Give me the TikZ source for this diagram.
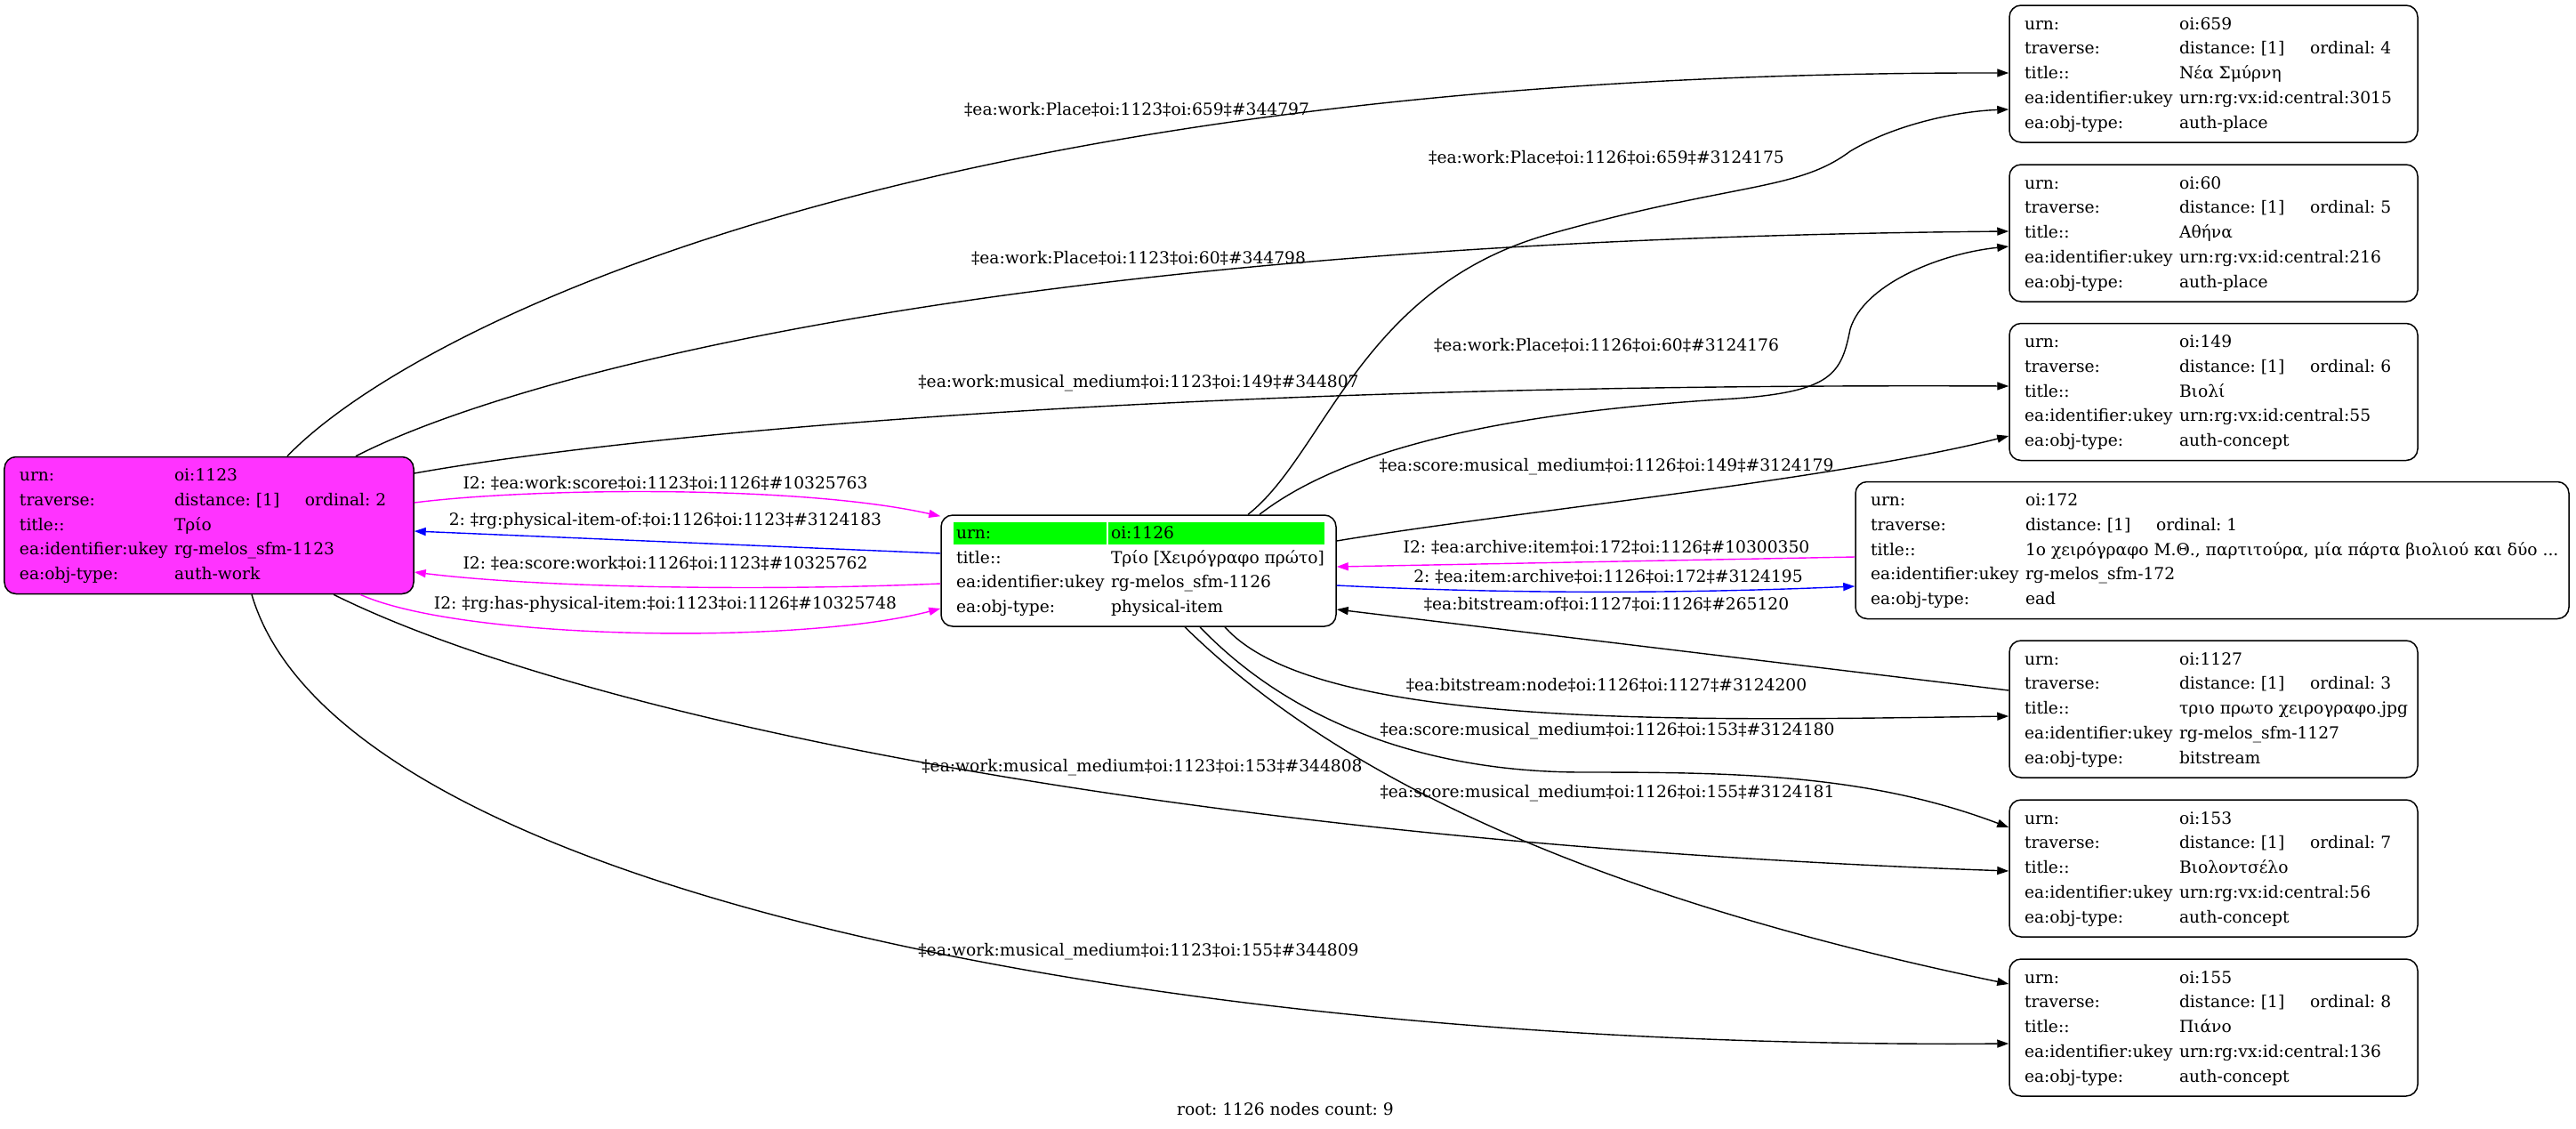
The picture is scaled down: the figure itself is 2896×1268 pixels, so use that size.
\documentclass[tikz,border=0pt]{standalone}
\usepackage{fontspec}
\setmainfont{DejaVu Serif}
\usepackage{array}
\usetikzlibrary{arrows.meta}
\definecolor{magfill}{RGB}{255,51,255}
\definecolor{emag}{RGB}{255,0,255}
\definecolor{eblue}{RGB}{0,0,255}
\definecolor{cellgreen}{RGB}{0,255,0}
\newcommand{\fiverows}[6]{%
\begin{tabular}{@{}w{l}{174bp}@{}w{l}{#1}@{}}
urn: & #2\\
traverse: & \makebox[147bp][l]{distance: [1]}ordinal: #3\\
title:: & #4\\
ea:identifier:ukey & #5\\
ea:obj-type: & #6
\end{tabular}}
\newcommand{\greencell}[1]{\makebox[0pt][l]{\hspace*{-3bp}{\color{cellgreen}\rule[-7bp]{#1}{25bp}}}}
\frenchspacing
\begin{document}
\frenchspacing
\begin{tikzpicture}[x=1bp,y=-1bp,
  every node/.style={font=\fontsize{18.67bp}{27.75bp}\selectfont\frenchspacing, inner sep=0pt},
  rec/.style={draw=black, line width=1.5bp, rounded corners=13bp, fill=white,
    inner xsep=17bp, inner ysep=0pt, minimum height=154bp},
  conn/.style={line width=1.4bp, -{Triangle[length=13bp,width=9bp]}},
  cmag/.style={conn, emag},
  cblue/.style={conn, eblue}]
\useasboundingbox (0,0) rectangle (2896,1268);

% ---------- nodes ----------
\node[rec, fill=magfill, minimum width=460bp] (n1123) at (235,590.5)
  {\fiverows{252bp}{oi:1123}{2}{Τρίο}{rg-melos\_sfm-1123}{auth-work}};
\node[rec, minimum width=444bp, minimum height=125bp] (n1126) at (1280,641.5)
  {\begin{tabular}{@{}w{l}{174bp}@{}w{l}{236bp}@{}}
   \greencell{172bp}urn: & \greencell{243bp}oi:1126\\
   title:: & Τρίο [Χειρόγραφο πρώτο]\\
   ea:identifier:ukey & rg-melos\_sfm-1126\\
   ea:obj-type: & physical-item
   \end{tabular}};
\node[rec, minimum width=459bp] (n659) at (2488.5,83)
  {\fiverows{251bp}{oi:659}{4}{Νέα Σμύρνη}{urn:rg:vx:id:central:3015}{auth-place}};
\node[rec, minimum width=459bp] (n60) at (2488.5,262)
  {\fiverows{251bp}{oi:60}{5}{Αθήνα}{urn:rg:vx:id:central:216}{auth-place}};
\node[rec, minimum width=459bp] (n149) at (2488.5,440.5)
  {\fiverows{251bp}{oi:149}{6}{Βιολί}{urn:rg:vx:id:central:55}{auth-concept}};
\node[rec, minimum width=802bp] (n172) at (2487,618.5)
  {\fiverows{594bp}{oi:172}{1}{1ο χειρόγραφο Μ.Θ., παρτιτούρα, μία πάρτα βιολιού και δύο ...}{rg-melos\_sfm-172}{ead}};
\node[rec, minimum width=459bp] (n1127) at (2488.5,797)
  {\fiverows{251bp}{oi:1127}{3}{τριο πρωτο χειρογραφο.jpg}{rg-melos\_sfm-1127}{bitstream}};
\node[rec, minimum width=459bp] (n153) at (2488.5,976)
  {\fiverows{251bp}{oi:153}{7}{Βιολοντσέλο}{urn:rg:vx:id:central:56}{auth-concept}};
\node[rec, minimum width=459bp] (n155) at (2488.5,1155)
  {\fiverows{251bp}{oi:155}{8}{Πιάνο}{urn:rg:vx:id:central:136}{auth-concept}};

% ---------- edges ----------
\draw[conn] ([xshift=88bp]n1123.north) .. controls (450,380) and (1000,80) .. ([yshift=1bp]n659.west);
\draw[conn] ([xshift=123bp]n1126.north) .. controls (1490,510) and (1530,320) .. (1746,262)
  .. controls (1950,205) and (2020,215) .. (2080,170)
  .. controls (2130,140) and (2200,125) .. ([yshift=-40bp]n659.west);
\draw[conn] ([xshift=165bp]n1123.north) .. controls (560,430) and (1100,270) .. ([yshift=2bp]n60.west);
\draw[conn] ([xshift=136bp]n1126.north) .. controls (1530,490) and (1750,460) .. (1950,448)
  .. controls (2060,440) and (2070,420) .. (2080,370)
  .. controls (2095,320) and (2180,285) .. ([yshift=-15bp]n60.west);
\draw[conn] ([yshift=58.5bp]n1123.east) .. controls (700,490) and (1300,430) .. ([yshift=6.5bp]n149.west);
\draw[conn] ([yshift=33.5bp]n1126.east) .. controls (1700,575) and (2059,540) .. ([yshift=-49.5bp]n149.west);
\draw[cmag] ([yshift=25.5bp]n1123.east) .. controls (600,548) and (900,545) .. ([yshift=-2bp]n1126.north west);
\draw[cblue] ([yshift=19.5bp]n1126.west) -- ([yshift=-6.5bp]n1123.east);
\draw[cmag] ([yshift=-14.5bp]n1126.west) .. controls (850,665) and (600,660) .. ([yshift=-52.5bp]n1123.east);
\draw[cmag] ([xshift=170bp]n1123.south) .. controls (520,720) and (900,725) .. ([yshift=-42.5bp]n1126.west);
\draw[cmag] ([yshift=-7.5bp]n172.west) -- ([yshift=4.5bp]n1126.east);
\draw[cblue] ([yshift=-16.5bp]n1126.east) .. controls (1700,668) and (1900,667) .. ([yshift=-40.5bp]n172.west);
\draw[conn] ([yshift=21bp]n1127.west) -- ([yshift=-43.5bp]n1126.east);
\draw[conn] ([xshift=97bp]n1126.south) .. controls (1480,820) and (1900,810) .. ([yshift=-8bp]n1127.west);
\draw[conn] ([xshift=69bp]n1126.south) .. controls (1450,810) and (1600,868) .. (1780,868)
  .. controls (1950,868) and (2100,870) .. ([yshift=46bp]n153.west);
\draw[conn] ([xshift=52bp]n1126.south) .. controls (1460,830) and (1700,990) .. ([yshift=49bp]n155.west);
\draw[conn] ([xshift=140bp]n1123.south) .. controls (640,800) and (1300,945) .. ([yshift=-3bp]n153.west);
\draw[conn] ([xshift=48bp]n1123.south) .. controls (380,1000) and (1300,1180) .. ([yshift=-18bp]n155.west);

% ---------- edge labels ----------
\node (l1) at (1278,123) {‡ea:work:Place‡oi:1123‡oi:659‡\#344797};
\node (l2) at (1806,177) {‡ea:work:Place‡oi:1126‡oi:659‡\#3124175};
\node (l3) at (1280,290) {‡ea:work:Place‡oi:1123‡oi:60‡\#344798};
\node (l4) at (1806,388) {‡ea:work:Place‡oi:1126‡oi:60‡\#3124176};
\node (l5) at (1280,431) {‡ea:work:musical\_medium‡oi:1123‡oi:149‡\#344807};
\node (l6) at (1806,525) {‡ea:score:musical\_medium‡oi:1126‡oi:149‡\#3124179};
\node (l7) at (748,543) {I2: ‡ea:work:score‡oi:1123‡oi:1126‡\#10325763};
\node (l8) at (748,585) {2: ‡rg:physical-item-of:‡oi:1126‡oi:1123‡\#3124183};
\node (l9) at (748,633) {I2: ‡ea:score:work‡oi:1126‡oi:1123‡\#10325762};
\node (l10) at (748,679) {I2: ‡rg:has-physical-item:‡oi:1123‡oi:1126‡\#10325748};
\node (l11) at (1806,615) {I2: ‡ea:archive:item‡oi:172‡oi:1126‡\#10300350};
\node (l12) at (1808,648) {2: ‡ea:item:archive‡oi:1126‡oi:172‡\#3124195};
\node (l13) at (1806,679) {‡ea:bitstream:of‡oi:1127‡oi:1126‡\#265120};
\node (l14) at (1806,770) {‡ea:bitstream:node‡oi:1126‡oi:1127‡\#3124200};
\node (l15) at (1807,822) {‡ea:score:musical\_medium‡oi:1126‡oi:153‡\#3124180};
\node (l16) at (1807,892) {‡ea:score:musical\_medium‡oi:1126‡oi:155‡\#3124181};
\node (l17) at (1284,863) {‡ea:work:musical\_medium‡oi:1123‡oi:153‡\#344808};
\node (l18) at (1280,1070) {‡ea:work:musical\_medium‡oi:1123‡oi:155‡\#344809};
\node (foot) at (1445,1247) {root: 1126 nodes count: 9};
\end{tikzpicture}
\end{document}
